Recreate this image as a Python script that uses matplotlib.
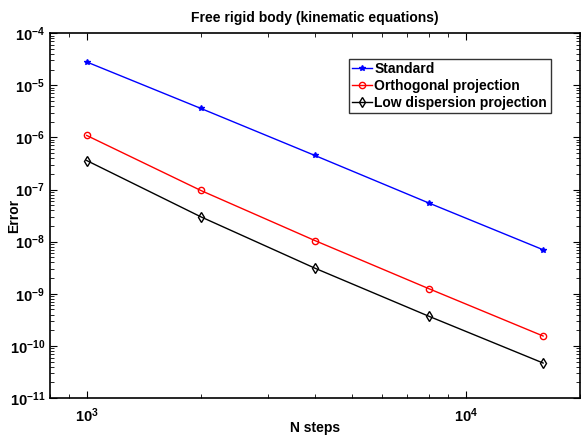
import matplotlib
matplotlib.use("Agg")
import matplotlib.pyplot as plt
from matplotlib import font_manager
from matplotlib.ticker import NullFormatter

n_steps = [1000, 2000, 4000, 8000, 16000]
err_standard = [2.8e-5, 3.6e-6, 4.5e-7, 5.5e-8, 7.0e-9]
err_orthogonal = [1.09e-6, 9.6e-8, 1.05e-8, 1.25e-9, 1.55e-10]
err_low_disp = [3.6e-7, 3.0e-8, 3.1e-9, 3.7e-10, 4.7e-11]

# narrow Helvetica look if we can get it
fonts = font_manager.fontManager.ttflist
names = {f.name for f in fonts}
condensed = any(f.name == "DejaVu Sans" and f.stretch == "condensed" and f.weight == "bold" for f in fonts)
if "Liberation Sans Narrow" in names:
    plt.rcParams["font.family"] = ["Liberation Sans Narrow", "DejaVu Sans"]
elif condensed:
    plt.rcParams["font.family"] = ["DejaVu Sans"]
    plt.rcParams["font.stretch"] = "condensed"
else:
    plt.rcParams["font.family"] = ["Liberation Sans", "DejaVu Sans"]
plt.rcParams["font.weight"] = "bold"

fig = plt.figure(figsize=(5.81, 4.36), dpi=100)
ax = fig.add_axes([0.086, 0.087, 0.912, 0.837])

ax.loglog(n_steps, err_standard, "-", color="blue", marker="*", markersize=4, lw=1, label="Standard")
ax.loglog(n_steps, err_orthogonal, "-", color="red", marker="o", markersize=4.5, mfc="none", lw=1, label="Orthogonal projection")
ax.loglog(n_steps, err_low_disp, "-", color="black", marker="d", markersize=5, mfc="none", lw=1, label="Low dispersion projection")

ax.set_xlim(800, 20000)
ax.set_ylim(1e-11, 1e-4)
ax.xaxis.set_minor_formatter(NullFormatter())
ax.yaxis.set_minor_formatter(NullFormatter())

ax.tick_params(which="both", direction="in", top=True, right=True, labelsize=10.5)
ax.tick_params(which="major", length=5)
ax.tick_params(which="minor", length=3)
ax.tick_params(axis="x", pad=6)
for s in ax.spines.values():
    s.set_linewidth(1.2)

ax.set_title("Free rigid body (kinematic equations)", fontsize=10, fontweight="bold", pad=8)
ax.set_xlabel("N steps", fontsize=10, fontweight="bold")
ax.set_ylabel("Error", fontsize=10, fontweight="bold")
ax.xaxis.set_label_coords(0.5, -0.063)
ax.yaxis.set_label_coords(-0.055, 0.5)

leg = ax.legend(loc="upper right", bbox_to_anchor=(0.945, 0.93), fontsize=10, frameon=True, fancybox=False,
                edgecolor="black", handlelength=1.4, handletextpad=0.2, borderpad=0.25, labelspacing=0.2,
                borderaxespad=0)
leg.get_frame().set_linewidth(1)

fig.savefig("out.png", dpi=100)
